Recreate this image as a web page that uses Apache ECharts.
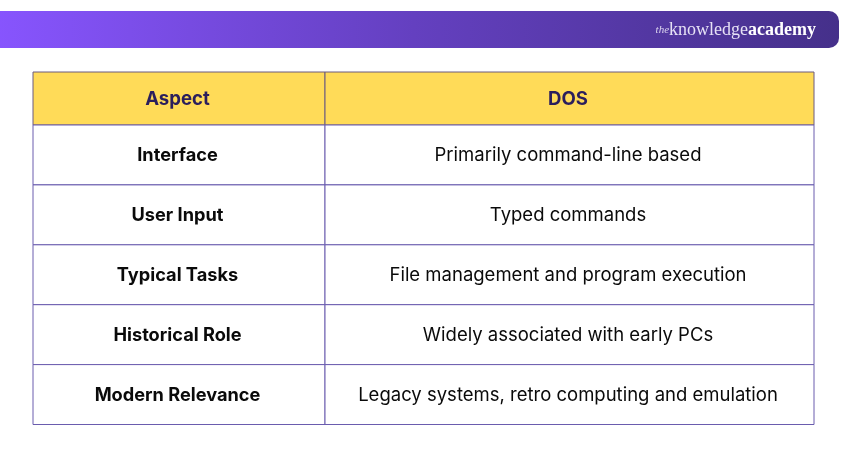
<!DOCTYPE html>
<html>
<head>
<meta charset="utf-8">
<style>
  html, body { margin: 0; padding: 0; background: #fff; }
  #chart { width: 850px; height: 450px; }
</style>
<script src="https://cdn.jsdelivr.net/npm/echarts@6/dist/echarts.min.js"></script>
</head>
<body>
<div id="chart"></div>
<script>
// table content
const headerLabels = ['Aspect', 'DOS'];
const aspects = ['Interface', 'User Input', 'Typical Tasks', 'Historical Role', 'Modern Relevance'];
const dosValues = [
  'Primarily command-line based',
  'Typed commands',
  'File management and program execution',
  'Widely associated with early PCs',
  'Legacy systems, retro computing and emulation'
];

const FONT = 'Inter, "Noto Sans", sans-serif';
const columnEdges = [0, 292, 781];

// one cell: rectangle and centred label, position comes from the axes
function renderCell(params, api) {
  const col = api.value(0);
  const row = api.value(1);
  const isHeader = params.seriesIndex === 0;
  const left = api.coord([columnEdges[col], row]);
  const right = api.coord([columnEdges[col + 1], row]);
  const bandHeight = api.size([0, 1])[1];
  const top = left[1] - bandHeight / 2;
  const label = isHeader ? headerLabels[col] : (col === 0 ? aspects[row] : dosValues[row]);
  const bold = isHeader || col === 0;
  return {
    type: 'group',
    children: [
      {
        type: 'rect',
        shape: { x: left[0], y: top, width: right[0] - left[0], height: bandHeight },
        style: { fill: isHeader ? '#FFDB58' : '#fff', stroke: isHeader ? '#6b5a80' : '#6a5cae', lineWidth: 1 }
      },
      {
        type: 'text',
        style: {
          x: (left[0] + right[0]) / 2 - 1.5,
          y: top + bandHeight / 2 + 0.5,
          text: label,
          align: 'center',
          verticalAlign: 'middle',
          fontFamily: FONT,
          fontSize: isHeader ? 18.6 : (bold ? 18.2 : 18.5),
          fontWeight: bold ? 700 : 400,
          fill: isHeader ? '#2b1e5c' : '#0a0a0a'
        }
      }
    ]
  };
}

function cellData(rowCount) {
  const cells = [];
  for (let r = 0; r < rowCount; r++) {
    cells.push([0, r], [1, r]);
  }
  return cells;
}

const hiddenX = gridIndex => ({ type: 'value', gridIndex, min: 0, max: 781, show: false });
const hiddenY = (gridIndex, data) => ({ type: 'category', gridIndex, data, inverse: true, show: false });

const chart = echarts.init(document.getElementById('chart'), null, { renderer: 'canvas' });
chart.setOption({
  animation: false,
  backgroundColor: '#fff',
  grid: [
    { left: 33, top: 72, width: 781, height: 53 },
    { left: 33, top: 125, width: 781, height: 299.5 }
  ],
  xAxis: [hiddenX(0), hiddenX(1)],
  yAxis: [hiddenY(0, ['header']), hiddenY(1, aspects)],
  graphic: [
    {
      type: 'rect',
      left: -12,
      top: 11,
      shape: { width: 851, height: 37, r: [0, 10, 10, 0] },
      style: {
        fill: new echarts.graphic.LinearGradient(0, 0, 1, 0, [
          { offset: 0, color: '#8855ff' },
          { offset: 0.5, color: '#6440c0' },
          { offset: 1, color: '#45308a' }
        ])
      }
    },
    {
      type: 'text',
      right: 34,
      top: 21,
      style: {
        rich: {
          the: { fontFamily: 'Liberation Serif', fontStyle: 'italic', fontSize: 11, fill: '#ddd6f0' },
          knowledge: { fontFamily: 'Liberation Serif', fontSize: 18, fill: '#e6e1f5' },
          academy: { fontFamily: 'Liberation Serif', fontWeight: 700, fontSize: 18, fill: '#fff' }
        },
        text: '{the|the}{knowledge|knowledge}{academy|academy}'
      }
    }
  ],
  series: [
    { type: 'custom', xAxisIndex: 0, yAxisIndex: 0, data: cellData(1), renderItem: renderCell, silent: true, clip: false },
    { type: 'custom', xAxisIndex: 1, yAxisIndex: 1, data: cellData(aspects.length), renderItem: renderCell, silent: true, clip: false }
  ]
});
</script>
</body>
</html>
